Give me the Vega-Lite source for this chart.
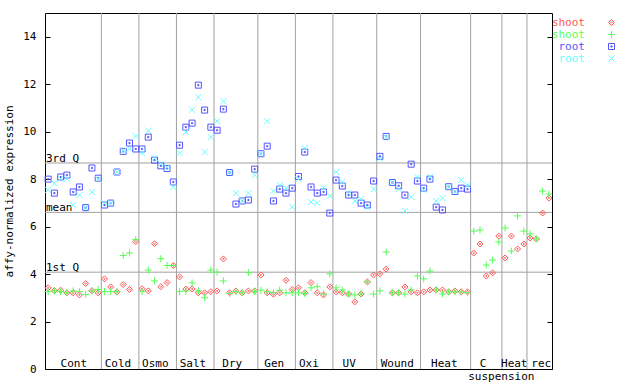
{
  "$schema": "https://vega.github.io/schema/vega-lite/v6.json",
  "width": 507,
  "height": 356,
  "autosize": {"type": "none"},
  "padding": {"left": 45, "top": 13, "right": 88, "bottom": 15},
  "background": "white",
  "config": {
    "font": "DejaVu Sans Mono",
    "view": {"stroke": "black", "strokeWidth": 1},
    "text": {"font": "DejaVu Sans Mono", "fontSize": 11, "color": "black"}
  },
  "datasets": {
    "expr": [
      {"s": 1, "shoot1": 3.42, "shoot2": 3.26, "root1": 8.00, "root2": 7.55},
      {"s": 2, "shoot1": 3.30, "shoot2": 3.29, "root1": 7.41, "root2": 7.83},
      {"s": 3, "shoot1": 3.32, "shoot2": 3.26, "root1": 8.09, "root2": 8.02},
      {"s": 4, "shoot1": 3.21, "shoot2": 3.21, "root1": 8.17, "root2": 8.00},
      {"s": 5, "shoot1": 3.21, "shoot2": 3.29, "root1": 7.46, "root2": 6.91},
      {"s": 6, "shoot1": 3.12, "shoot2": 3.26, "root1": 7.67, "root2": 7.33},
      {"s": 7, "shoot1": 3.60, "shoot2": 3.14, "root1": 6.80, "root2": 6.80},
      {"s": 8, "shoot1": 3.30, "shoot2": 3.29, "root1": 8.47, "root2": 7.46},
      {"s": 9, "shoot1": 3.21, "shoot2": 3.35, "root1": 8.04, "root2": 8.00},
      {"s": 10, "shoot1": 3.80, "shoot2": 3.26, "root1": 6.91, "root2": 6.99},
      {"s": 11, "shoot1": 3.46, "shoot2": 3.26, "root1": 6.99, "root2": 6.99},
      {"s": 12, "shoot1": 3.25, "shoot2": 3.26, "root1": 8.30, "root2": 8.30},
      {"s": 13, "shoot1": 3.56, "shoot2": 4.78, "root1": 9.17, "root2": 9.20},
      {"s": 14, "shoot1": 3.35, "shoot2": 4.89, "root1": 9.52, "root2": 9.28},
      {"s": 15, "shoot1": 5.37, "shoot2": 5.45, "root1": 9.27, "root2": 9.81},
      {"s": 16, "shoot1": 3.38, "shoot2": 3.26, "root1": 9.27, "root2": 9.10},
      {"s": 17, "shoot1": 3.29, "shoot2": 4.17, "root1": 9.77, "root2": 10.04},
      {"s": 18, "shoot1": 5.28, "shoot2": 3.71, "root1": 8.80, "root2": 8.89},
      {"s": 19, "shoot1": 3.47, "shoot2": 4.65, "root1": 8.56, "root2": 8.65},
      {"s": 20, "shoot1": 3.64, "shoot2": 4.36, "root1": 8.45, "root2": 8.50},
      {"s": 21, "shoot1": 4.36, "shoot2": 4.36, "root1": 7.88, "root2": 7.67},
      {"s": 22, "shoot1": 3.88, "shoot2": 3.26, "root1": 9.43, "root2": 9.10},
      {"s": 23, "shoot1": 3.37, "shoot2": 3.29, "root1": 10.19, "root2": 9.98},
      {"s": 24, "shoot1": 3.37, "shoot2": 3.63, "root1": 10.36, "root2": 10.92},
      {"s": 25, "shoot1": 3.21, "shoot2": 3.29, "root1": 11.96, "root2": 11.45},
      {"s": 26, "shoot1": 3.21, "shoot2": 3.00, "root1": 10.91, "root2": 9.14},
      {"s": 27, "shoot1": 3.26, "shoot2": 4.17, "root1": 10.19, "root2": 9.77},
      {"s": 28, "shoot1": 3.29, "shoot2": 4.08, "root1": 10.06, "root2": 10.44},
      {"s": 29, "shoot1": 4.64, "shoot2": 3.71, "root1": 10.95, "root2": 11.28},
      {"s": 30, "shoot1": 3.21, "shoot2": 3.18, "root1": 8.28, "root2": 8.28},
      {"s": 31, "shoot1": 3.29, "shoot2": 3.26, "root1": 6.95, "root2": 7.41},
      {"s": 32, "shoot1": 3.21, "shoot2": 3.21, "root1": 7.08, "root2": 7.08},
      {"s": 33, "shoot1": 3.29, "shoot2": 4.06, "root1": 7.12, "root2": 7.41},
      {"s": 34, "shoot1": 3.29, "shoot2": 3.26, "root1": 8.42, "root2": 8.17},
      {"s": 35, "shoot1": 3.96, "shoot2": 3.32, "root1": 9.07, "root2": 9.07},
      {"s": 36, "shoot1": 3.21, "shoot2": 3.26, "root1": 9.39, "root2": 10.44},
      {"s": 37, "shoot1": 3.15, "shoot2": 3.21, "root1": 7.08, "root2": 7.50},
      {"s": 38, "shoot1": 3.21, "shoot2": 3.32, "root1": 7.58, "root2": 7.75},
      {"s": 39, "shoot1": 3.74, "shoot2": 3.21, "root1": 7.41, "root2": 7.62},
      {"s": 40, "shoot1": 3.35, "shoot2": 3.21, "root1": 7.62, "root2": 6.82},
      {"s": 41, "shoot1": 3.42, "shoot2": 3.21, "root1": 8.11, "root2": 8.00},
      {"s": 42, "shoot1": 3.21, "shoot2": 3.18, "root1": 9.14, "root2": 9.31},
      {"s": 43, "shoot1": 3.64, "shoot2": 3.42, "root1": 7.67, "root2": 7.04},
      {"s": 44, "shoot1": 3.21, "shoot2": 3.47, "root1": 7.41, "root2": 6.99},
      {"s": 45, "shoot1": 3.12, "shoot2": 3.16, "root1": 7.46, "root2": 7.64},
      {"s": 46, "shoot1": 3.46, "shoot2": 4.01, "root1": 6.57, "root2": 7.29},
      {"s": 47, "shoot1": 3.25, "shoot2": 3.42, "root1": 7.96, "root2": 8.30},
      {"s": 48, "shoot1": 3.21, "shoot2": 3.33, "root1": 7.71, "root2": 7.89},
      {"s": 49, "shoot1": 3.16, "shoot2": 3.16, "root1": 7.33, "root2": 7.41},
      {"s": 50, "shoot1": 2.83, "shoot2": 3.12, "root1": 7.33, "root2": 7.08},
      {"s": 51, "shoot1": 3.16, "shoot2": 3.16, "root1": 6.99, "root2": 7.16},
      {"s": 52, "shoot1": 3.67, "shoot2": 3.67, "root1": 6.91, "root2": 6.82},
      {"s": 53, "shoot1": 3.96, "shoot2": 3.16, "root1": 7.92, "root2": 7.58},
      {"s": 54, "shoot1": 4.01, "shoot2": 3.29, "root1": 8.96, "root2": 8.86},
      {"s": 55, "shoot1": 4.21, "shoot2": 4.93, "root1": 9.80, "root2": 9.77},
      {"s": 56, "shoot1": 3.21, "shoot2": 3.21, "root1": 7.86, "root2": 7.86},
      {"s": 57, "shoot1": 3.21, "shoot2": 3.21, "root1": 7.72, "root2": 7.58},
      {"s": 58, "shoot1": 3.46, "shoot2": 3.16, "root1": 7.33, "root2": 6.66},
      {"s": 59, "shoot1": 3.25, "shoot2": 3.33, "root1": 8.63, "root2": 7.25},
      {"s": 60, "shoot1": 3.21, "shoot2": 3.92, "root1": 7.92, "root2": 8.09},
      {"s": 61, "shoot1": 3.25, "shoot2": 3.80, "root1": 7.62, "root2": 7.55},
      {"s": 62, "shoot1": 3.33, "shoot2": 4.13, "root1": 8.00, "root2": 8.09},
      {"s": 63, "shoot1": 3.33, "shoot2": 3.33, "root1": 6.82, "root2": 7.08},
      {"s": 64, "shoot1": 3.33, "shoot2": 3.16, "root1": 6.70, "root2": 7.20},
      {"s": 65, "shoot1": 3.25, "shoot2": 3.25, "root1": 7.68, "root2": 7.68},
      {"s": 66, "shoot1": 3.29, "shoot2": 3.25, "root1": 7.48, "root2": 7.48},
      {"s": 67, "shoot1": 3.25, "shoot2": 3.25, "root1": 7.62, "root2": 7.96},
      {"s": 68, "shoot1": 3.25, "shoot2": 3.21, "root1": 7.58, "root2": 7.75},
      {"s": 69, "shoot1": 4.89, "shoot2": 5.81, "root1": null, "root2": null},
      {"s": 70, "shoot1": 5.27, "shoot2": 5.86, "root1": null, "root2": null},
      {"s": 71, "shoot1": 3.92, "shoot2": 4.38, "root1": null, "root2": null},
      {"s": 72, "shoot1": 4.05, "shoot2": 4.59, "root1": null, "root2": null},
      {"s": 73, "shoot1": 5.60, "shoot2": 5.35, "root1": null, "root2": null},
      {"s": 74, "shoot1": 4.68, "shoot2": 5.94, "root1": null, "root2": null},
      {"s": 75, "shoot1": 5.60, "shoot2": 4.97, "root1": null, "root2": null},
      {"s": 76, "shoot1": 5.06, "shoot2": 6.45, "root1": null, "root2": null},
      {"s": 77, "shoot1": 5.27, "shoot2": 5.81, "root1": null, "root2": null},
      {"s": 78, "shoot1": 5.52, "shoot2": 5.69, "root1": null, "root2": null},
      {"s": 79, "shoot1": 5.48, "shoot2": 5.48, "root1": null, "root2": null},
      {"s": 80, "shoot1": 6.57, "shoot2": 7.50, "root1": null, "root2": null},
      {"s": 81, "shoot1": 7.20, "shoot2": 7.37, "root1": null, "root2": null}
    ],
    "bounds": [
      {"b": 9.5}, {"b": 15.5}, {"b": 21.5}, {"b": 27.5}, {"b": 34.5}, {"b": 40.5},
      {"b": 46.5}, {"b": 53.5}, {"b": 60.5}, {"b": 68.5}, {"b": 73.5}, {"b": 77.5}
    ],
    "stats": [
      {"stat": "3rd Q", "value": 8.68},
      {"stat": "mean", "value": 6.6},
      {"stat": "1st Q", "value": 4.08}
    ],
    "groups": [
      {"label": "Cont", "at": 5.1},
      {"label": "Cold", "at": 12.15},
      {"label": "Osmo", "at": 18.12},
      {"label": "Salt", "at": 24.14},
      {"label": "Dry", "at": 30.42},
      {"label": "Gen", "at": 37.13},
      {"label": "Oxi", "at": 42.66},
      {"label": "UV", "at": 49.1},
      {"label": "Wound", "at": 56.77},
      {"label": "Heat", "at": 64.3},
      {"label": "C", "at": 70.5},
      {"label": "Heat", "at": 75.47},
      {"label": "rec", "at": 79.78}
    ],
    "sub": [
      {"label": "suspension", "at": 73.4}
    ]
  },
  "layer": [
    {
      "data": {"name": "bounds"},
      "mark": {"type": "rule", "color": "#a0a0a0", "strokeWidth": 1},
      "encoding": {
        "x": {"field": "b", "type": "quantitative", "scale": {"domain": [0.5, 81.5], "nice": false, "zero": false}, "axis": null}
      }
    },
    {
      "data": {"name": "stats"},
      "mark": {"type": "rule", "color": "#a0a0a0", "strokeWidth": 1},
      "encoding": {
        "y": {"field": "value", "type": "quantitative", "scale": {"domain": [0, 15], "nice": false, "zero": true},
          "axis": {"orient": "right", "labels": false, "title": null, "domain": false, "grid": false, "values": [0, 2, 4, 6, 8, 10, 12, 14], "ticks": true, "tickSize": -5, "tickColor": "black", "tickWidth": 1}}
      }
    },
    {
      "data": {"name": "stats"},
      "mark": {"type": "text", "align": "left", "baseline": "alphabetic", "dx": 1, "dy": -1, "fontSize": 11, "font": "DejaVu Sans Mono"},
      "encoding": {
        "x": {"datum": 0.5, "type": "quantitative", "axis": null},
        "y": {"field": "value", "type": "quantitative", "axis": null},
        "text": {"field": "stat"}
      }
    },
    {
      "data": {"name": "groups"},
      "mark": {"type": "text", "align": "center", "baseline": "alphabetic", "dy": -2, "fontSize": 11, "font": "DejaVu Sans Mono"},
      "encoding": {
        "x": {"field": "at", "type": "quantitative", "axis": null},
        "y": {"datum": 0, "type": "quantitative", "axis": null},
        "text": {"field": "label"}
      }
    },
    {
      "data": {"name": "sub"},
      "mark": {"type": "text", "align": "center", "baseline": "alphabetic", "dy": 11, "fontSize": 11, "font": "DejaVu Sans Mono"},
      "encoding": {
        "x": {"field": "at", "type": "quantitative", "axis": null},
        "y": {"datum": 0, "type": "quantitative", "axis": null},
        "text": {"field": "label"}
      }
    },
    {
      "data": {"name": "expr"},
      "transform": [
        {"fold": ["shoot1", "shoot2", "root1", "root2"], "as": ["series", "v"]},
        {"filter": "datum.v != null"}
      ],
      "mark": {"type": "point", "filled": false, "strokeWidth": 1, "size": 36, "opacity": 1},
      "encoding": {
        "x": {"field": "s", "type": "quantitative", "axis": null},
        "y": {"field": "v", "type": "quantitative",
          "axis": {"orient": "left", "title": "affy-normalized expression", "titleFont": "DejaVu Sans Mono", "titleFontSize": 11, "titleFontWeight": "normal", "titleColor": "black", "titlePadding": 8,
            "labelFont": "DejaVu Sans Mono", "labelFontSize": 11, "labelColor": "black", "labelPadding": 14,
            "domain": false, "grid": false, "values": [0, 2, 4, 6, 8, 10, 12, 14], "ticks": true, "tickSize": -5, "tickColor": "black", "tickWidth": 1}},
        "color": {"field": "series", "type": "nominal",
          "scale": {"domain": ["shoot1", "shoot2", "root1", "root2"], "range": ["#ff5555", "#55ff55", "#5555ff", "#66ffff"]},
          "legend": {"orient": "none", "legendX": 561, "legendY": 4, "title": null, "padding": 0, "rowPadding": 0,
            "labelExpr": "indexof(datum.value, 'shoot') == 0 ? 'shoot' : 'root'",
            "labelAlign": "right", "labelOffset": -32, "labelFont": "DejaVu Sans Mono", "labelFontSize": 11,
            "labelColor": {"expr": "datum.value == 'shoot1' ? '#ff5555' : datum.value == 'shoot2' ? '#55ff55' : datum.value == 'root1' ? '#5555ff' : '#66ffff'"},
            "symbolSize": 36, "symbolStrokeWidth": 1}},
        "shape": {"field": "series", "type": "nominal",
          "scale": {"domain": ["shoot1", "shoot2", "root1", "root2"],
            "range": [
              "M0,-1L1,0L0,1L-1,0Z M0,-0.25L0.25,0L0,0.25L-0.25,0Z",
              "M-1.15,0H1.15M0,-1.15V1.15",
              "M-1,-1H1V1H-1Z M-0.2,-0.2H0.2V0.2H-0.2Z",
              "M-1,-1L1,1M-1,1L1,-1"
            ]},
          "legend": {"orient": "none", "legendX": 561, "legendY": 4, "title": null, "padding": 0, "rowPadding": 0,
            "labelExpr": "indexof(datum.value, 'shoot') == 0 ? 'shoot' : 'root'",
            "labelAlign": "right", "labelOffset": -32, "labelFont": "DejaVu Sans Mono", "labelFontSize": 11,
            "labelColor": {"expr": "datum.value == 'shoot1' ? '#ff5555' : datum.value == 'shoot2' ? '#55ff55' : datum.value == 'root1' ? '#5555ff' : '#66ffff'"},
            "symbolSize": 36, "symbolStrokeWidth": 1}}
      }
    }
  ]
}
